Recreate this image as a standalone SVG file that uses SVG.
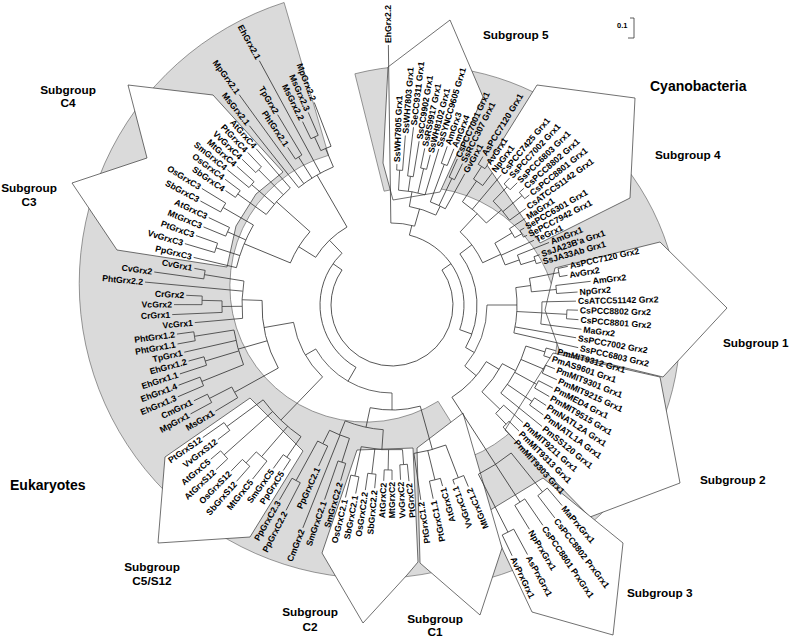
<svg xmlns="http://www.w3.org/2000/svg" width="789" height="638" viewBox="0 0 789 638">
<style>
.ring{fill:#dadada;stroke:#555;stroke-width:.6}
.poly{fill:#fff;stroke:#333;stroke-width:.7}
#branches line,#branches circle{stroke:#333;stroke-width:.75;fill:none}
text{font-family:"Liberation Sans",Arial,Helvetica,sans-serif;font-weight:bold;font-size:8.7px;fill:#000}
.l{text-anchor:end}
.t{font-size:11.8px}
.c{text-anchor:middle}
.big{font-size:14px}
</style>
<rect width="789" height="638" fill="#fff"/>
<g id="shading">
<path class="ring" d="M523.4 537.9 A295 295 0 1 1 284.1 2.5 L328.5 155.3 A136 136 0 1 0 438.1 401.3 Z"/>
<path class="ring" d="M354.9 73.8 A261 261 0 1 1 463.3 584 L442.3 464.9 A140 140 0 1 0 384.1 191.2 Z"/>
</g>
<g id="subgroups">
<polygon id="box-s5" class="poly" points="388,67 450,20 483,97 440,192 393,200 383,163"/>
<polygon id="box-s4" class="poly" points="537,85 635,98 630,198 540,243 487,165"/>
<polygon id="box-s1" class="poly" points="555,268 660,242 727,308 663,377 560,352 545,310"/>
<polygon id="box-s2" class="poly" points="553,353 660,377 680,483 590,517 505,430"/>
<polygon id="box-s3" class="poly" points="487,512 543,478 623,543 613,635 532,612 502,548"/>
<polygon id="box-c1" class="poly" points="417,448 463,413 502,548 480,615 420,563"/>
<polygon id="box-c2" class="poly" points="322,553 357,450 413,448 418,562 407,575 363,623"/>
<polygon id="box-c5" class="poly" points="165,457 250,398 303,451 250,537 158,543"/>
<polygon id="box-c34" class="poly" points="128,85 213,95 283,172 256,194 236,226 227,267 117,250 72,183 147,158"/>
</g>
<g id="branches" transform="translate(392,305)">
<circle r="61" pathLength="360" stroke-dasharray="250 999" transform="rotate(-35)"/>
<circle r="72" pathLength="360" stroke-dasharray="96 999" transform="rotate(-76)"/>
<circle r="82" pathLength="360" stroke-dasharray="16.8 999" transform="rotate(-90.8)"/>
<circle r="100" pathLength="360" stroke-dasharray="16 999" transform="rotate(-80)"/>
<circle r="115" pathLength="360" stroke-dasharray="13.45 999" transform="rotate(-86.75)"/>
<circle r="135" pathLength="360" stroke-dasharray="2.5 999" transform="rotate(-88)"/>
<circle r="130" pathLength="360" stroke-dasharray="2.5 999" transform="rotate(-83.1)"/>
<circle r="140" pathLength="360" stroke-dasharray="2.5 999" transform="rotate(-78.2)"/>
<circle r="110" pathLength="360" stroke-dasharray="8.6 999" transform="rotate(-69.6)"/>
<circle r="150" pathLength="360" stroke-dasharray="2.4 999" transform="rotate(-70.8)"/>
<circle r="140" pathLength="360" stroke-dasharray="2.4 999" transform="rotate(-65.9)"/>
<circle r="85" pathLength="360" stroke-dasharray="67 999" transform="rotate(-37)"/>
<circle r="100" pathLength="360" stroke-dasharray="22 999" transform="rotate(-47)"/>
<circle r="125" pathLength="360" stroke-dasharray="14.7 999" transform="rotate(-55.7)"/>
<circle r="150" pathLength="360" stroke-dasharray="4.3 999" transform="rotate(-57.1)"/>
<circle r="165" pathLength="360" stroke-dasharray="2.8 999" transform="rotate(-58.5)"/>
<circle r="145" pathLength="360" stroke-dasharray="9.95 999" transform="rotate(-45.75)"/>
<circle r="165" pathLength="360" stroke-dasharray="2.9 999" transform="rotate(-47.2)"/>
<circle r="170" pathLength="360" stroke-dasharray="2.8 999" transform="rotate(-41.5)"/>
<circle r="120" pathLength="360" stroke-dasharray="11.5 999" transform="rotate(-31)"/>
<circle r="140" pathLength="360" stroke-dasharray="4.25 999" transform="rotate(-33)"/>
<circle r="148" pathLength="360" stroke-dasharray="2.9 999" transform="rotate(-30.2)"/>
<circle r="135" pathLength="360" stroke-dasharray="4.3 999" transform="rotate(-21.7)"/>
<circle r="150" pathLength="360" stroke-dasharray="2.8 999" transform="rotate(-18.8)"/>
<circle r="95" pathLength="360" stroke-dasharray="40 999" transform="rotate(0)"/>
<circle r="125" pathLength="360" stroke-dasharray="20.9 999" transform="rotate(-8)"/>
<circle r="140" pathLength="360" stroke-dasharray="5.6 999" transform="rotate(-11)"/>
<circle r="170" pathLength="360" stroke-dasharray="2.8 999" transform="rotate(-12.4)"/>
<circle r="165" pathLength="360" stroke-dasharray="2.8 999" transform="rotate(-6.8)"/>
<circle r="150" pathLength="360" stroke-dasharray="8.5 999" transform="rotate(-1.2)"/>
<circle r="175" pathLength="360" stroke-dasharray="2.9 999" transform="rotate(1.6)"/>
<circle r="110" pathLength="360" stroke-dasharray="26 999" transform="rotate(31)"/>
<circle r="125" pathLength="360" stroke-dasharray="16 999" transform="rotate(28)"/>
<circle r="140" pathLength="360" stroke-dasharray="21.95 999" transform="rotate(17.05)"/>
<circle r="160" pathLength="360" stroke-dasharray="2.9 999" transform="rotate(15.6)"/>
<circle r="165" pathLength="360" stroke-dasharray="3 999" transform="rotate(21.4)"/>
<circle r="165" pathLength="360" stroke-dasharray="2.9 999" transform="rotate(27.3)"/>
<circle r="170" pathLength="360" stroke-dasharray="2.9 999" transform="rotate(33.1)"/>
<circle r="150" pathLength="360" stroke-dasharray="4.35 999" transform="rotate(41.9)"/>
<circle r="165" pathLength="360" stroke-dasharray="2.9 999" transform="rotate(44.8)"/>
<circle r="190" pathLength="360" stroke-dasharray="11.8 999" transform="rotate(51.15)"/>
<circle r="240" pathLength="360" stroke-dasharray="2.9 999" transform="rotate(49.7)"/>
<circle r="235" pathLength="360" stroke-dasharray="2.9 999" transform="rotate(55.6)"/>
<circle r="255" pathLength="360" stroke-dasharray="2.9 999" transform="rotate(61.5)"/>
<circle r="72" pathLength="360" stroke-dasharray="106 999" transform="rotate(120)"/>
<circle r="88" pathLength="360" stroke-dasharray="60 999" transform="rotate(90)"/>
<circle r="105" pathLength="360" stroke-dasharray="27.6 999" transform="rotate(74.4)"/>
<circle r="150" pathLength="360" stroke-dasharray="12.6 999" transform="rotate(69)"/>
<circle r="185" pathLength="360" stroke-dasharray="3.6 999" transform="rotate(67.2)"/>
<circle r="180" pathLength="360" stroke-dasharray="3.6 999" transform="rotate(74.4)"/>
<circle r="125" pathLength="360" stroke-dasharray="18 999" transform="rotate(94)"/>
<circle r="145" pathLength="360" stroke-dasharray="16.4 999" transform="rotate(85.85)"/>
<circle r="160" pathLength="360" stroke-dasharray="2.7 999" transform="rotate(84.5)"/>
<circle r="165" pathLength="360" stroke-dasharray="2.7 999" transform="rotate(90)"/>
<circle r="170" pathLength="360" stroke-dasharray="2.8 999" transform="rotate(95.4)"/>
<circle r="175" pathLength="360" stroke-dasharray="2.7 999" transform="rotate(100.9)"/>
<circle r="140" pathLength="360" stroke-dasharray="8.8 999" transform="rotate(107.7)"/>
<circle r="165" pathLength="360" stroke-dasharray="2.8 999" transform="rotate(106.3)"/>
<circle r="155" pathLength="360" stroke-dasharray="4.15 999" transform="rotate(114.5)"/>
<circle r="200" pathLength="360" stroke-dasharray="2.7 999" transform="rotate(117.3)"/>
<circle r="100" pathLength="360" stroke-dasharray="36 999" transform="rotate(134)"/>
<circle r="160" pathLength="360" stroke-dasharray="19 999" transform="rotate(124.65)"/>
<circle r="185" pathLength="360" stroke-dasharray="2.7 999" transform="rotate(123.3)"/>
<circle r="200" pathLength="360" stroke-dasharray="4.05 999" transform="rotate(128.7)"/>
<circle r="215" pathLength="360" stroke-dasharray="2.7 999" transform="rotate(131.4)"/>
<circle r="225" pathLength="360" stroke-dasharray="2.7 999" transform="rotate(136.9)"/>
<circle r="205" pathLength="360" stroke-dasharray="2.7 999" transform="rotate(142.3)"/>
<circle r="130" pathLength="360" stroke-dasharray="31 999" transform="rotate(151)"/>
<circle r="180" pathLength="360" stroke-dasharray="3.9 999" transform="rotate(149)"/>
<circle r="205" pathLength="360" stroke-dasharray="2.6 999" transform="rotate(151.6)"/>
<circle r="160" pathLength="360" stroke-dasharray="12.9 999" transform="rotate(158.1)"/>
<circle r="205" pathLength="360" stroke-dasharray="2.6 999" transform="rotate(156.8)"/>
<circle r="195" pathLength="360" stroke-dasharray="2.6 999" transform="rotate(162)"/>
<circle r="200" pathLength="360" stroke-dasharray="2.6 999" transform="rotate(169.7)"/>
<circle r="150" pathLength="360" stroke-dasharray="14.3 999" transform="rotate(174.9)"/>
<circle r="170" pathLength="360" stroke-dasharray="3.9 999" transform="rotate(177.5)"/>
<circle r="190" pathLength="360" stroke-dasharray="2.6 999" transform="rotate(180.1)"/>
<circle r="190" pathLength="360" stroke-dasharray="2.6 999" transform="rotate(187.9)"/>
<circle r="90" pathLength="360" stroke-dasharray="28 999" transform="rotate(212)"/>
<circle r="110" pathLength="360" stroke-dasharray="19.3 999" transform="rotate(202.5)"/>
<circle r="160" pathLength="360" stroke-dasharray="16.5 999" transform="rotate(193.5)"/>
<circle r="185" pathLength="360" stroke-dasharray="3 999" transform="rotate(196.5)"/>
<circle r="180" pathLength="360" stroke-dasharray="3 999" transform="rotate(202.5)"/>
<circle r="195" pathLength="360" stroke-dasharray="3 999" transform="rotate(208.5)"/>
<circle r="155" pathLength="360" stroke-dasharray="13.25 999" transform="rotate(215.75)"/>
<circle r="190" pathLength="360" stroke-dasharray="2.5 999" transform="rotate(214.5)"/>
<circle r="185" pathLength="360" stroke-dasharray="2.4 999" transform="rotate(219.4)"/>
<circle r="190" pathLength="360" stroke-dasharray="2.4 999" transform="rotate(224.2)"/>
<circle r="150" pathLength="360" stroke-dasharray="15.5 999" transform="rotate(231.5)"/>
<circle r="175" pathLength="360" stroke-dasharray="2.5 999" transform="rotate(236.5)"/>
<circle r="170" pathLength="360" stroke-dasharray="3.75 999" transform="rotate(245.25)"/>
<circle r="185" pathLength="360" stroke-dasharray="2.5 999" transform="rotate(244)"/>
<line x1="61" x2="72" transform="rotate(-35)"/>
<line x1="61" x2="72" transform="rotate(215)"/>
<line x1="72" x2="82" transform="rotate(-76)"/>
<line x1="72" x2="85" transform="rotate(20)"/>
<line x1="82" x2="100" transform="rotate(-74)"/>
<line x1="100" x2="115" transform="rotate(-80)"/>
<line x1="100" x2="110" transform="rotate(-64)"/>
<line x1="115" x2="135" transform="rotate(-86.75)"/>
<line x1="115" x2="130" transform="rotate(-81.85)"/>
<line x1="115" x2="140" transform="rotate(-76.95)"/>
<line x1="110" x2="150" transform="rotate(-69.6)"/>
<line x1="110" x2="140" transform="rotate(-64.7)"/>
<line x1="85" x2="100" transform="rotate(-37)"/>
<line x1="85" x2="95" transform="rotate(30)"/>
<line x1="100" x2="125" transform="rotate(-47)"/>
<line x1="100" x2="120" transform="rotate(-25)"/>
<line x1="125" x2="150" transform="rotate(-55.7)"/>
<line x1="150" x2="165" transform="rotate(-57.1)"/>
<line x1="125" x2="145" transform="rotate(-41)"/>
<line x1="145" x2="165" transform="rotate(-45.75)"/>
<line x1="145" x2="170" transform="rotate(-40.1)"/>
<line x1="120" x2="140" transform="rotate(-31)"/>
<line x1="140" x2="148" transform="rotate(-28.75)"/>
<line x1="120" x2="135" transform="rotate(-19.5)"/>
<line x1="135" x2="150" transform="rotate(-17.4)"/>
<line x1="95" x2="125" transform="rotate(0)"/>
<line x1="95" x2="110" transform="rotate(40)"/>
<line x1="125" x2="140" transform="rotate(-8)"/>
<line x1="140" x2="170" transform="rotate(-11)"/>
<line x1="140" x2="165" transform="rotate(-5.4)"/>
<line x1="125" x2="150" transform="rotate(3)"/>
<line x1="150" x2="175" transform="rotate(3.05)"/>
<line x1="110" x2="125" transform="rotate(31)"/>
<line x1="110" x2="235" transform="rotate(57)"/>
<line x1="125" x2="140" transform="rotate(28)"/>
<line x1="140" x2="160" transform="rotate(17.05)"/>
<line x1="140" x2="165" transform="rotate(22.9)"/>
<line x1="140" x2="165" transform="rotate(28.75)"/>
<line x1="140" x2="170" transform="rotate(34.55)"/>
<line x1="125" x2="150" transform="rotate(44)"/>
<line x1="150" x2="165" transform="rotate(46.25)"/>
<line x1="190" x2="240" transform="rotate(51.15)"/>
<line x1="190" x2="255" transform="rotate(62.95)"/>
<line x1="72" x2="88" transform="rotate(120)"/>
<line x1="72" x2="90" transform="rotate(226)"/>
<line x1="88" x2="105" transform="rotate(90)"/>
<line x1="88" x2="100" transform="rotate(150)"/>
<line x1="105" x2="150" transform="rotate(74.4)"/>
<line x1="105" x2="125" transform="rotate(102)"/>
<line x1="150" x2="185" transform="rotate(69)"/>
<line x1="150" x2="180" transform="rotate(76.2)"/>
<line x1="125" x2="145" transform="rotate(94)"/>
<line x1="145" x2="160" transform="rotate(85.85)"/>
<line x1="145" x2="165" transform="rotate(91.35)"/>
<line x1="145" x2="170" transform="rotate(96.8)"/>
<line x1="145" x2="175" transform="rotate(102.25)"/>
<line x1="125" x2="140" transform="rotate(112)"/>
<line x1="140" x2="165" transform="rotate(107.7)"/>
<line x1="140" x2="155" transform="rotate(116.5)"/>
<line x1="155" x2="200" transform="rotate(118.65)"/>
<line x1="100" x2="160" transform="rotate(134)"/>
<line x1="100" x2="130" transform="rotate(170)"/>
<line x1="160" x2="185" transform="rotate(124.65)"/>
<line x1="160" x2="200" transform="rotate(130.7)"/>
<line x1="200" x2="215" transform="rotate(132.75)"/>
<line x1="160" x2="225" transform="rotate(138.25)"/>
<line x1="160" x2="205" transform="rotate(143.65)"/>
<line x1="130" x2="180" transform="rotate(151)"/>
<line x1="180" x2="205" transform="rotate(152.9)"/>
<line x1="130" x2="160" transform="rotate(164)"/>
<line x1="160" x2="205" transform="rotate(158.1)"/>
<line x1="160" x2="195" transform="rotate(163.3)"/>
<line x1="160" x2="200" transform="rotate(171)"/>
<line x1="130" x2="150" transform="rotate(182)"/>
<line x1="150" x2="170" transform="rotate(179.5)"/>
<line x1="170" x2="190" transform="rotate(181.4)"/>
<line x1="150" x2="190" transform="rotate(189.2)"/>
<line x1="90" x2="110" transform="rotate(212)"/>
<line x1="90" x2="150" transform="rotate(240)"/>
<line x1="110" x2="160" transform="rotate(202.5)"/>
<line x1="110" x2="155" transform="rotate(221.8)"/>
<line x1="160" x2="185" transform="rotate(198)"/>
<line x1="160" x2="180" transform="rotate(204)"/>
<line x1="160" x2="195" transform="rotate(210)"/>
<line x1="155" x2="190" transform="rotate(215.75)"/>
<line x1="155" x2="185" transform="rotate(220.6)"/>
<line x1="155" x2="190" transform="rotate(225.4)"/>
<line x1="150" x2="175" transform="rotate(237.75)"/>
<line x1="150" x2="170" transform="rotate(247)"/>
<line x1="170" x2="185" transform="rotate(245.25)"/>
<line x1="82" x2="260" transform="rotate(-90.8)"/>
<line x1="135" x2="141" transform="rotate(-88)"/>
<line x1="135" x2="170" transform="rotate(-85.5)"/>
<line x1="130" x2="179" transform="rotate(-83.1)"/>
<line x1="130" x2="166" transform="rotate(-80.6)"/>
<line x1="140" x2="160" transform="rotate(-78.2)"/>
<line x1="140" x2="155" transform="rotate(-75.7)"/>
<line x1="115" x2="163" transform="rotate(-73.3)"/>
<line x1="150" x2="168" transform="rotate(-70.8)"/>
<line x1="150" x2="168" transform="rotate(-68.4)"/>
<line x1="140" x2="160" transform="rotate(-65.9)"/>
<line x1="140" x2="158" transform="rotate(-63.5)"/>
<line x1="110" x2="150" transform="rotate(-61)"/>
<line x1="165" x2="174" transform="rotate(-58.5)"/>
<line x1="165" x2="169" transform="rotate(-55.7)"/>
<line x1="150" x2="166" transform="rotate(-52.8)"/>
<line x1="125" x2="170" transform="rotate(-50)"/>
<line x1="165" x2="173" transform="rotate(-47.2)"/>
<line x1="165" x2="175" transform="rotate(-44.3)"/>
<line x1="170" x2="176" transform="rotate(-41.5)"/>
<line x1="170" x2="176" transform="rotate(-38.7)"/>
<line x1="145" x2="165" transform="rotate(-35.8)"/>
<line x1="140" x2="159" transform="rotate(-33)"/>
<line x1="148" x2="153" transform="rotate(-30.2)"/>
<line x1="148" x2="152" transform="rotate(-27.3)"/>
<line x1="120" x2="156" transform="rotate(-24.5)"/>
<line x1="135" x2="169" transform="rotate(-21.7)"/>
<line x1="150" x2="156" transform="rotate(-18.8)"/>
<line x1="150" x2="155" transform="rotate(-16)"/>
<line x1="170" x2="180" transform="rotate(-12.4)"/>
<line x1="170" x2="178" transform="rotate(-9.6)"/>
<line x1="165" x2="200" transform="rotate(-6.8)"/>
<line x1="165" x2="186" transform="rotate(-4)"/>
<line x1="150" x2="184" transform="rotate(-1.2)"/>
<line x1="175" x2="186" transform="rotate(1.6)"/>
<line x1="175" x2="187" transform="rotate(4.5)"/>
<line x1="150" x2="191" transform="rotate(7.3)"/>
<line x1="125" x2="187" transform="rotate(10.1)"/>
<line x1="125" x2="191" transform="rotate(12.9)"/>
<line x1="160" x2="170" transform="rotate(15.6)"/>
<line x1="160" x2="167" transform="rotate(18.5)"/>
<line x1="165" x2="175" transform="rotate(21.4)"/>
<line x1="165" x2="181" transform="rotate(24.4)"/>
<line x1="165" x2="181" transform="rotate(27.3)"/>
<line x1="165" x2="182" transform="rotate(30.2)"/>
<line x1="170" x2="184" transform="rotate(33.1)"/>
<line x1="170" x2="187" transform="rotate(36)"/>
<line x1="140" x2="193" transform="rotate(39)"/>
<line x1="150" x2="176" transform="rotate(41.9)"/>
<line x1="165" x2="179" transform="rotate(44.8)"/>
<line x1="165" x2="182" transform="rotate(47.7)"/>
<line x1="240" x2="263" transform="rotate(49.7)"/>
<line x1="240" x2="268" transform="rotate(52.6)"/>
<line x1="235" x2="267" transform="rotate(55.6)"/>
<line x1="235" x2="263" transform="rotate(58.5)"/>
<line x1="255" x2="284" transform="rotate(61.5)"/>
<line x1="255" x2="278" transform="rotate(64.4)"/>
<line x1="185" x2="197" transform="rotate(67.2)"/>
<line x1="185" x2="190" transform="rotate(70.8)"/>
<line x1="180" x2="188" transform="rotate(74.4)"/>
<line x1="180" x2="198" transform="rotate(78)"/>
<line x1="150" x2="197" transform="rotate(81.6)"/>
<line x1="160" x2="177" transform="rotate(84.5)"/>
<line x1="160" x2="175" transform="rotate(87.2)"/>
<line x1="165" x2="175" transform="rotate(90)"/>
<line x1="165" x2="176" transform="rotate(92.7)"/>
<line x1="170" x2="184" transform="rotate(95.4)"/>
<line x1="170" x2="187" transform="rotate(98.2)"/>
<line x1="175" x2="192" transform="rotate(100.9)"/>
<line x1="175" x2="198" transform="rotate(103.6)"/>
<line x1="165" x2="183" transform="rotate(106.3)"/>
<line x1="165" x2="206" transform="rotate(109.1)"/>
<line x1="140" x2="240" transform="rotate(111.8)"/>
<line x1="155" x2="177" transform="rotate(114.5)"/>
<line x1="200" x2="231" transform="rotate(117.3)"/>
<line x1="200" x2="225" transform="rotate(120)"/>
<line x1="185" x2="198" transform="rotate(123.3)"/>
<line x1="185" x2="202" transform="rotate(126)"/>
<line x1="200" x2="223" transform="rotate(128.7)"/>
<line x1="215" x2="235" transform="rotate(131.4)"/>
<line x1="215" x2="231" transform="rotate(134.1)"/>
<line x1="225" x2="241" transform="rotate(136.9)"/>
<line x1="225" x2="238" transform="rotate(139.6)"/>
<line x1="205" x2="220" transform="rotate(142.3)"/>
<line x1="205" x2="231" transform="rotate(145)"/>
<line x1="180" x2="206" transform="rotate(149)"/>
<line x1="205" x2="229" transform="rotate(151.6)"/>
<line x1="205" x2="220" transform="rotate(154.2)"/>
<line x1="205" x2="233" transform="rotate(156.8)"/>
<line x1="205" x2="228" transform="rotate(159.4)"/>
<line x1="195" x2="223" transform="rotate(162)"/>
<line x1="195" x2="211" transform="rotate(164.6)"/>
<line x1="160" x2="213" transform="rotate(167.2)"/>
<line x1="200" x2="218" transform="rotate(169.7)"/>
<line x1="200" x2="217" transform="rotate(172.3)"/>
<line x1="150" x2="198" transform="rotate(174.9)"/>
<line x1="170" x2="220" transform="rotate(177.5)"/>
<line x1="190" x2="218" transform="rotate(180.1)"/>
<line x1="190" x2="206" transform="rotate(182.7)"/>
<line x1="150" x2="248" transform="rotate(185.3)"/>
<line x1="190" x2="240" transform="rotate(187.9)"/>
<line x1="190" x2="201" transform="rotate(190.5)"/>
<line x1="160" x2="204" transform="rotate(193.5)"/>
<line x1="185" x2="216" transform="rotate(196.5)"/>
<line x1="185" x2="208" transform="rotate(199.5)"/>
<line x1="180" x2="204" transform="rotate(202.5)"/>
<line x1="180" x2="203" transform="rotate(205.5)"/>
<line x1="195" x2="218" transform="rotate(208.5)"/>
<line x1="195" x2="223" transform="rotate(211.5)"/>
<line x1="190" x2="202" transform="rotate(214.5)"/>
<line x1="190" x2="209" transform="rotate(217)"/>
<line x1="185" x2="213" transform="rotate(219.4)"/>
<line x1="185" x2="208" transform="rotate(221.8)"/>
<line x1="190" x2="209" transform="rotate(224.2)"/>
<line x1="190" x2="210" transform="rotate(226.6)"/>
<line x1="155" x2="207" transform="rotate(229)"/>
<line x1="150" x2="229" transform="rotate(231.5)"/>
<line x1="150" x2="260" transform="rotate(234)"/>
<line x1="175" x2="189" transform="rotate(236.5)"/>
<line x1="175" x2="222" transform="rotate(239)"/>
<line x1="150" x2="278" transform="rotate(241.5)"/>
<line x1="185" x2="204" transform="rotate(244)"/>
<line x1="185" x2="210" transform="rotate(246.5)"/>
<line x1="170" x2="217" transform="rotate(249)"/>
</g>
<g id="leaves" transform="translate(392,305)">
<g id="n1" transform="rotate(-90.8)"><text x="262" y="3">EhGrx2.2</text></g>
<g id="n2" transform="rotate(-88)"><text x="143" y="3">SsWH7805 Grx1</text></g>
<g id="n3" transform="rotate(-85.5)"><text x="172" y="3">SsWH7803 Grx1</text></g>
<g id="n4" transform="rotate(-83.1)"><text x="181" y="3">SeCC9311 Grx1</text></g>
<g id="n5" transform="rotate(-80.6)"><text x="168" y="3">SsCC9902 Grx1</text></g>
<g id="n6" transform="rotate(-78.2)"><text x="162" y="3">SsRS9917 Grx1</text></g>
<g id="n7" transform="rotate(-75.7)"><text x="157" y="3">SsWH8102 Grx1</text></g>
<g id="n8" transform="rotate(-73.3)"><text x="165" y="3">SsSYNCC9605 Grx1</text></g>
<g id="n9" transform="rotate(-70.8)"><text x="170" y="3">AmGrx3</text></g>
<g id="n10" transform="rotate(-68.4)"><text x="170" y="3">AmGrx4</text></g>
<g id="n11" transform="rotate(-65.9)"><text x="162" y="3">CsPCC7001 Grx1</text></g>
<g id="n12" transform="rotate(-63.5)"><text x="160" y="3">SsRCC307 Grx1</text></g>
<g id="n13" transform="rotate(-61)"><text x="152" y="3">GvGrx1</text></g>
<g id="n14" transform="rotate(-58.5)"><text x="176" y="3">AsPCC7120 Grx1</text></g>
<g id="n15" transform="rotate(-55.7)"><text x="171" y="3">AvGrx1</text></g>
<g id="n16" transform="rotate(-52.8)"><text x="168" y="3">NpGrx1</text></g>
<g id="n17" transform="rotate(-50)"><text x="172" y="3">CsPCC7425 Grx1</text></g>
<g id="n18" transform="rotate(-47.2)"><text x="175" y="3">SsPCC7002 Grx1</text></g>
<g id="n19" transform="rotate(-44.3)"><text x="177" y="3">SsPCC6803 Grx1</text></g>
<g id="n20" transform="rotate(-41.5)"><text x="178" y="3">CsPCC8802 Grx1</text></g>
<g id="n21" transform="rotate(-38.7)"><text x="178" y="3">CsPCC8801 Grx1</text></g>
<g id="n22" transform="rotate(-35.8)"><text x="167" y="3">CsATCC51142 Grx1</text></g>
<g id="n23" transform="rotate(-33)"><text x="161" y="3">MaGrx1</text></g>
<g id="n24" transform="rotate(-30.2)"><text x="155" y="3">SePCC6301 Grx1</text></g>
<g id="n25" transform="rotate(-27.3)"><text x="154" y="3">SePCC7942 Grx1</text></g>
<g id="n26" transform="rotate(-24.5)"><text x="158" y="3">TeGrx1</text></g>
<g id="n27" transform="rotate(-21.7)"><text x="171" y="3">AmGrx1</text></g>
<g id="n28" transform="rotate(-18.8)"><text x="158" y="3">SsJA23B'a Grx1</text></g>
<g id="n29" transform="rotate(-16)"><text x="157" y="3">SsJA33Ab Grx1</text></g>
<g id="n30" transform="rotate(-12.4)"><text x="182" y="3">AsPCC7120 Grx2</text></g>
<g id="n31" transform="rotate(-9.6)"><text x="180" y="3">AvGrx2</text></g>
<g id="n32" transform="rotate(-6.8)"><text x="202" y="3">AmGrx2</text></g>
<g id="n33" transform="rotate(-4)"><text x="188" y="3">NpGrx2</text></g>
<g id="n34" transform="rotate(-1.2)"><text x="186" y="3">CsATCC51142 Grx2</text></g>
<g id="n35" transform="rotate(1.6)"><text x="188" y="3">CsPCC8802 Grx2</text></g>
<g id="n36" transform="rotate(4.5)"><text x="189" y="3">CsPCC8801 Grx2</text></g>
<g id="n37" transform="rotate(7.3)"><text x="193" y="3">MaGrx2</text></g>
<g id="n38" transform="rotate(10.1)"><text x="189" y="3">SsPCC7002 Grx2</text></g>
<g id="n39" transform="rotate(12.9)"><text x="193" y="3">SsPCC6803 Grx2</text></g>
<g id="n40" transform="rotate(15.6)"><text x="172" y="3">PmMIT9312 Grx1</text></g>
<g id="n41" transform="rotate(18.5)"><text x="169" y="3">PmAS9601 Grx1</text></g>
<g id="n42" transform="rotate(21.4)"><text x="177" y="3">PmMIT9301 Grx1</text></g>
<g id="n43" transform="rotate(24.4)"><text x="183" y="3">PmMIT9215 Grx1</text></g>
<g id="n44" transform="rotate(27.3)"><text x="183" y="3">PmMED4 Grx1</text></g>
<g id="n45" transform="rotate(30.2)"><text x="184" y="3">PmMIT9515 Grx1</text></g>
<g id="n46" transform="rotate(33.1)"><text x="186" y="3">PmNATL2A Grx1</text></g>
<g id="n47" transform="rotate(36)"><text x="189" y="3">PmNATL1A Grx1</text></g>
<g id="n48" transform="rotate(39)"><text x="195" y="3">PmSS120 Grx1</text></g>
<g id="n49" transform="rotate(41.9)"><text x="178" y="3">PmMIT9211 Grx1</text></g>
<g id="n50" transform="rotate(44.8)"><text x="181" y="3">PmMIT9313 Grx1</text></g>
<g id="n51" transform="rotate(47.7)"><text x="184" y="3">PmMIT9303 Grx1</text></g>
<g id="n52" transform="rotate(49.7)"><text x="265" y="3">MaPrxGrx1</text></g>
<g id="n53" transform="rotate(52.6)"><text x="270" y="3">CsPCC8802 PrxGrx1</text></g>
<g id="n54" transform="rotate(55.6)"><text x="269" y="3">CsPCC8801 PrxGrx1</text></g>
<g id="n55" transform="rotate(58.5)"><text x="265" y="3">NpPrxGrx1</text></g>
<g id="n56" transform="rotate(61.5)"><text x="286" y="3">AsPrxGrx1</text></g>
<g id="n57" transform="rotate(64.4)"><text x="280" y="3">AvPrxGrx1</text></g>
<g id="n58" transform="rotate(67.2)"><text class="l" transform="rotate(180)" x="-199" y="3">MtGrxC1.2</text></g>
<g id="n59" transform="rotate(70.8)"><text class="l" transform="rotate(180)" x="-192" y="3">VvGrxC1.1</text></g>
<g id="n60" transform="rotate(74.4)"><text class="l" transform="rotate(180)" x="-190" y="3">AtGrxC1</text></g>
<g id="n61" transform="rotate(78)"><text class="l" transform="rotate(180)" x="-200" y="3">PtGrxC1.1</text></g>
<g id="n62" transform="rotate(81.6)"><text class="l" transform="rotate(180)" x="-199" y="3">PtGrxC1.2</text></g>
<g id="n63" transform="rotate(84.5)"><text class="l" transform="rotate(180)" x="-179" y="3">PtGrxC2</text></g>
<g id="n64" transform="rotate(87.2)"><text class="l" transform="rotate(180)" x="-177" y="3">VvGrxC2</text></g>
<g id="n65" transform="rotate(90)"><text class="l" transform="rotate(180)" x="-177" y="3">MtGrxC2</text></g>
<g id="n66" transform="rotate(92.7)"><text class="l" transform="rotate(180)" x="-178" y="3">AtGrxC2</text></g>
<g id="n67" transform="rotate(95.4)"><text class="l" transform="rotate(180)" x="-186" y="3">SbGrxC2.2</text></g>
<g id="n68" transform="rotate(98.2)"><text class="l" transform="rotate(180)" x="-189" y="3">OsGrxC2.2</text></g>
<g id="n69" transform="rotate(100.9)"><text class="l" transform="rotate(180)" x="-194" y="3">SbGrxC2.1</text></g>
<g id="n70" transform="rotate(103.6)"><text class="l" transform="rotate(180)" x="-200" y="3">OsGrxC2.1</text></g>
<g id="n71" transform="rotate(106.3)"><text class="l" transform="rotate(180)" x="-185" y="3">SmGrxC2.2</text></g>
<g id="n72" transform="rotate(109.1)"><text class="l" transform="rotate(180)" x="-208" y="3">SmGrxC2.1</text></g>
<g id="n73" transform="rotate(111.8)"><text class="l" transform="rotate(180)" x="-242" y="3">CmGrx2</text></g>
<g id="n74" transform="rotate(114.5)"><text class="l" transform="rotate(180)" x="-179" y="3">PpGrxC2.1</text></g>
<g id="n75" transform="rotate(117.3)"><text class="l" transform="rotate(180)" x="-233" y="3">PpGrxC2.2</text></g>
<g id="n76" transform="rotate(120)"><text class="l" transform="rotate(180)" x="-227" y="3">PpGrxC2.3</text></g>
<g id="n77" transform="rotate(123.3)"><text class="l" transform="rotate(180)" x="-200" y="3">PpGrxC5</text></g>
<g id="n78" transform="rotate(126)"><text class="l" transform="rotate(180)" x="-204" y="3">SmGrxC5</text></g>
<g id="n79" transform="rotate(128.7)"><text class="l" transform="rotate(180)" x="-225" y="3">MtGrxC5</text></g>
<g id="n80" transform="rotate(131.4)"><text class="l" transform="rotate(180)" x="-237" y="3">SbGrxS12</text></g>
<g id="n81" transform="rotate(134.1)"><text class="l" transform="rotate(180)" x="-233" y="3">OsGrxS12</text></g>
<g id="n82" transform="rotate(136.9)"><text class="l" transform="rotate(180)" x="-243" y="3">AtGrxS12</text></g>
<g id="n83" transform="rotate(139.6)"><text class="l" transform="rotate(180)" x="-240" y="3">AtGrxC5</text></g>
<g id="n84" transform="rotate(142.3)"><text class="l" transform="rotate(180)" x="-222" y="3">VvGrxS12</text></g>
<g id="n85" transform="rotate(145)"><text class="l" transform="rotate(180)" x="-233" y="3">PtGrxS12</text></g>
<g id="n86" transform="rotate(149)"><text class="l" transform="rotate(180)" x="-208" y="3">MsGrx1</text></g>
<g id="n87" transform="rotate(151.6)"><text class="l" transform="rotate(180)" x="-231" y="3">MpGrx1</text></g>
<g id="n88" transform="rotate(154.2)"><text class="l" transform="rotate(180)" x="-222" y="3">CmGrx1</text></g>
<g id="n89" transform="rotate(156.8)"><text class="l" transform="rotate(180)" x="-235" y="3">EhGrx1.3</text></g>
<g id="n90" transform="rotate(159.4)"><text class="l" transform="rotate(180)" x="-230" y="3">EhGrx1.4</text></g>
<g id="n91" transform="rotate(162)"><text class="l" transform="rotate(180)" x="-225" y="3">EhGrx1.1</text></g>
<g id="n92" transform="rotate(164.6)"><text class="l" transform="rotate(180)" x="-213" y="3">EhGrx1.2</text></g>
<g id="n93" transform="rotate(167.2)"><text class="l" transform="rotate(180)" x="-215" y="3">TpGrx1</text></g>
<g id="n94" transform="rotate(169.7)"><text class="l" transform="rotate(180)" x="-220" y="3">PhtGrx1.1</text></g>
<g id="n95" transform="rotate(172.3)"><text class="l" transform="rotate(180)" x="-219" y="3">PhtGrx1.2</text></g>
<g id="n96" transform="rotate(174.9)"><text class="l" transform="rotate(180)" x="-200" y="3">VcGrx1</text></g>
<g id="n97" transform="rotate(177.5)"><text class="l" transform="rotate(180)" x="-222" y="3">CrGrx1</text></g>
<g id="n98" transform="rotate(180.1)"><text class="l" transform="rotate(180)" x="-220" y="3">VcGrx2</text></g>
<g id="n99" transform="rotate(182.7)"><text class="l" transform="rotate(180)" x="-208" y="3">CrGrx2</text></g>
<g id="n100" transform="rotate(185.3)"><text class="l" transform="rotate(180)" x="-250" y="3">PhtGrx2.2</text></g>
<g id="n101" transform="rotate(187.9)"><text class="l" transform="rotate(180)" x="-242" y="3">CvGrx2</text></g>
<g id="n102" transform="rotate(190.5)"><text class="l" transform="rotate(180)" x="-203" y="3">CvGrx1</text></g>
<g id="n103" transform="rotate(193.5)"><text class="l" transform="rotate(180)" x="-206" y="3">PpGrxC3</text></g>
<g id="n104" transform="rotate(196.5)"><text class="l" transform="rotate(180)" x="-218" y="3">VvGrxC3</text></g>
<g id="n105" transform="rotate(199.5)"><text class="l" transform="rotate(180)" x="-210" y="3">PtGrxC3</text></g>
<g id="n106" transform="rotate(202.5)"><text class="l" transform="rotate(180)" x="-206" y="3">MtGrxC3</text></g>
<g id="n107" transform="rotate(205.5)"><text class="l" transform="rotate(180)" x="-205" y="3">AtGrxC3</text></g>
<g id="n108" transform="rotate(208.5)"><text class="l" transform="rotate(180)" x="-220" y="3">SbGrxC3</text></g>
<g id="n109" transform="rotate(211.5)"><text class="l" transform="rotate(180)" x="-225" y="3">OsGrxC3</text></g>
<g id="n110" transform="rotate(214.5)"><text class="l" transform="rotate(180)" x="-204" y="3">SbGrxC4</text></g>
<g id="n111" transform="rotate(217)"><text class="l" transform="rotate(180)" x="-211" y="3">OsGrxC4</text></g>
<g id="n112" transform="rotate(219.4)"><text class="l" transform="rotate(180)" x="-215" y="3">SmGrxC4</text></g>
<g id="n113" transform="rotate(221.8)"><text class="l" transform="rotate(180)" x="-210" y="3">MtGrxC4</text></g>
<g id="n114" transform="rotate(224.2)"><text class="l" transform="rotate(180)" x="-211" y="3">VvGrxC4</text></g>
<g id="n115" transform="rotate(226.6)"><text class="l" transform="rotate(180)" x="-212" y="3">PtGrxC4</text></g>
<g id="n116" transform="rotate(229)"><text class="l" transform="rotate(180)" x="-209" y="3">AtGrxC4</text></g>
<g id="n117" transform="rotate(231.5)"><text class="l" transform="rotate(180)" x="-231" y="3">MsGrx2.1</text></g>
<g id="n118" transform="rotate(234)"><text class="l" transform="rotate(180)" x="-262" y="3">MpGrx2.1</text></g>
<g id="n119" transform="rotate(236.5)"><text class="l" transform="rotate(180)" x="-191" y="3">PhtGrx2.1</text></g>
<g id="n120" transform="rotate(239)"><text class="l" transform="rotate(180)" x="-224" y="3">TpGrx2</text></g>
<g id="n121" transform="rotate(241.5)"><text class="l" transform="rotate(180)" x="-280" y="3">EhGrx2.1</text></g>
<g id="n122" transform="rotate(244)"><text class="l" transform="rotate(180)" x="-206" y="3">MsGrx2.2</text></g>
<g id="n123" transform="rotate(246.5)"><text class="l" transform="rotate(180)" x="-212" y="3">MsGrx2.3</text></g>
<g id="n124" transform="rotate(249)"><text class="l" transform="rotate(180)" x="-219" y="3">MpGrx2.2</text></g>
</g>
<g id="titles">
<text class="t" x="483" y="39">Subgroup 5</text>
<text class="big" x="650" y="91">Cyanobacteria</text>
<text class="t" x="655" y="159">Subgroup 4</text>
<text class="t" x="723" y="347">Subgroup 1</text>
<text class="t" x="700" y="484">Subgroup 2</text>
<text class="t" x="627" y="597">Subgroup 3</text>
<text class="t c" x="435" y="623">Subgroup</text>
<text class="t c" x="435" y="636">C1</text>
<text class="t c" x="310" y="616">Subgroup</text>
<text class="t c" x="310" y="631">C2</text>
<text class="t c" x="152" y="571">Subgroup</text>
<text class="t c" x="152" y="585">C5/S12</text>
<text class="big" x="10" y="490">Eukaryotes</text>
<text class="t c" x="29" y="192">Subgroup</text>
<text class="t c" x="29" y="206">C3</text>
<text class="t c" x="68" y="94">Subgroup</text>
<text class="t c" x="68" y="107">C4</text>
</g>
<g id="scale">
<text x="617" y="28" style="font-size:7.5px">0.1</text>
<path d="M630 18 H634 V38 H628" fill="none" stroke="#333" stroke-width="0.8"/>
</g>
</svg>
